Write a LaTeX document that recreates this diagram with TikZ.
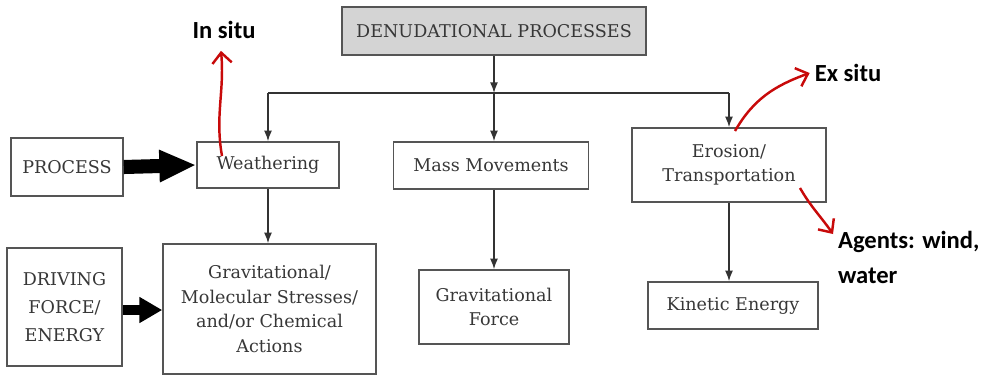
\documentclass[tikz,border=0pt]{standalone}
\usepackage{fontspec}
\usepackage{tikz}
\usetikzlibrary{arrows.meta,positioning}
\setmainfont{DejaVu Serif}
\newfontfamily\handfont{Carlito}
\definecolor{penred}{RGB}{200,10,10}
\definecolor{boxline}{RGB}{85,85,85}
\definecolor{boxtext}{RGB}{55,55,55}

\begin{document}
\begin{tikzpicture}[x=0.02cm, y=-0.02cm,
  font=\fontsize{10}{14}\selectfont, >={Latex[length=6pt,width=4.5pt]},
  box/.style={draw=boxline, line width=0.9pt, text=boxtext,
    align=center, inner sep=2pt},
  head/.style={box, fill=black!17, line width=1.2pt},
  link/.style={->, line width=0.8pt, draw=black!80},
  fatA/.style={-{Triangle[length=21pt,width=17pt]}, line width=8pt},
  fatB/.style={-{Triangle[length=13pt,width=14pt]}, line width=6pt},
  pen/.style={-{Straight Barb[length=6pt,width=11pt]}, line width=1.4pt,
    draw=penred},
  note/.style={font=\handfont\bfseries\fontsize{14}{20}\selectfont,
    inner sep=1pt, align=left},
]
\useasboundingbox (0,0) rectangle (993,376);
% boxes
\node[head, minimum width=6.08cm, minimum height=0.96cm] (root) at (494,31)
  {DENUDATIONAL PROCESSES};
\foreach \n/\t/\x/\y/\w/\h in {
    proc/{PROCESS}/67/167/2.24/1.16,
    weath/{Weathering}/268/165/2.84/0.92,
    mass/{Mass Movements}/491/165.5/3.9/0.94,
    eros/{Erosion/\\Transportation}/729/165/3.88/1.48,
    gmol/{Gravitational/\\Molecular Stresses/\\and/or Chemical\\Actions}/269.5/309/4.26/2.6,
    gforce/{Gravitational\\Force}/494/307/3.0/1.48,
    kin/{Kinetic Energy}/733/305.5/3.4/0.94} {
  \node[box, minimum width=\w cm, minimum height=\h cm] (\n) at (\x,\y) {\t};
}
\node[box, minimum width=2.3cm, minimum height=2.36cm,
  font=\fontsize{10}{16}\selectfont] (drive) at (64.5,307)
  {DRIVING\\FORCE/\\ENERGY};
% tree
\coordinate (fork) at (494,93);
\draw[link] (root.south) -- (fork);
\draw[line width=0.8pt, black!80] (fork -| weath.north) -- (fork -| eros.north);
\draw[link] (fork -| weath.north) -- (weath.north);
\draw[link] (fork) -- (fork |- mass.north);
\draw[link] (fork -| eros.north) -- (eros.north);
\draw[link] (weath.south) -- (weath.south |- gmol.north);
\draw[link] (fork |- mass.south) -- (fork |- gforce.north);
\draw[link] (eros.south) -- (eros.south |- kin.north);
% row arrows
\draw[fatA] (proc.east) -- (weath.west);
\draw[fatB] (drive.east |- 0,310) -- (gmol.west |- 0,310);
% notes
\node[note] (insitu) at (224,30) {In situ};
\node[note] (exsitu) at (848,73) {Ex situ};
\node[note, anchor=north west] (agents) at (836,229) {Agents: wind,\\water};
\coordinate (wfoot) at (222,156);
\coordinate (efoot) at (735,131);
\coordinate (tfoot) at (800,188);
\draw[pen] (wfoot) to[out=100, in=-85] ([xshift=-0.06cm,yshift=-0.2cm]insitu.south);
\draw[pen] (efoot) to[out=60, in=200] ([xshift=-0.06cm]exsitu.west);
\draw[pen] (tfoot) to[out=-60, in=125] ([xshift=-0.06cm,yshift=-0.1cm]agents.north west);
\end{tikzpicture}
\end{document}
